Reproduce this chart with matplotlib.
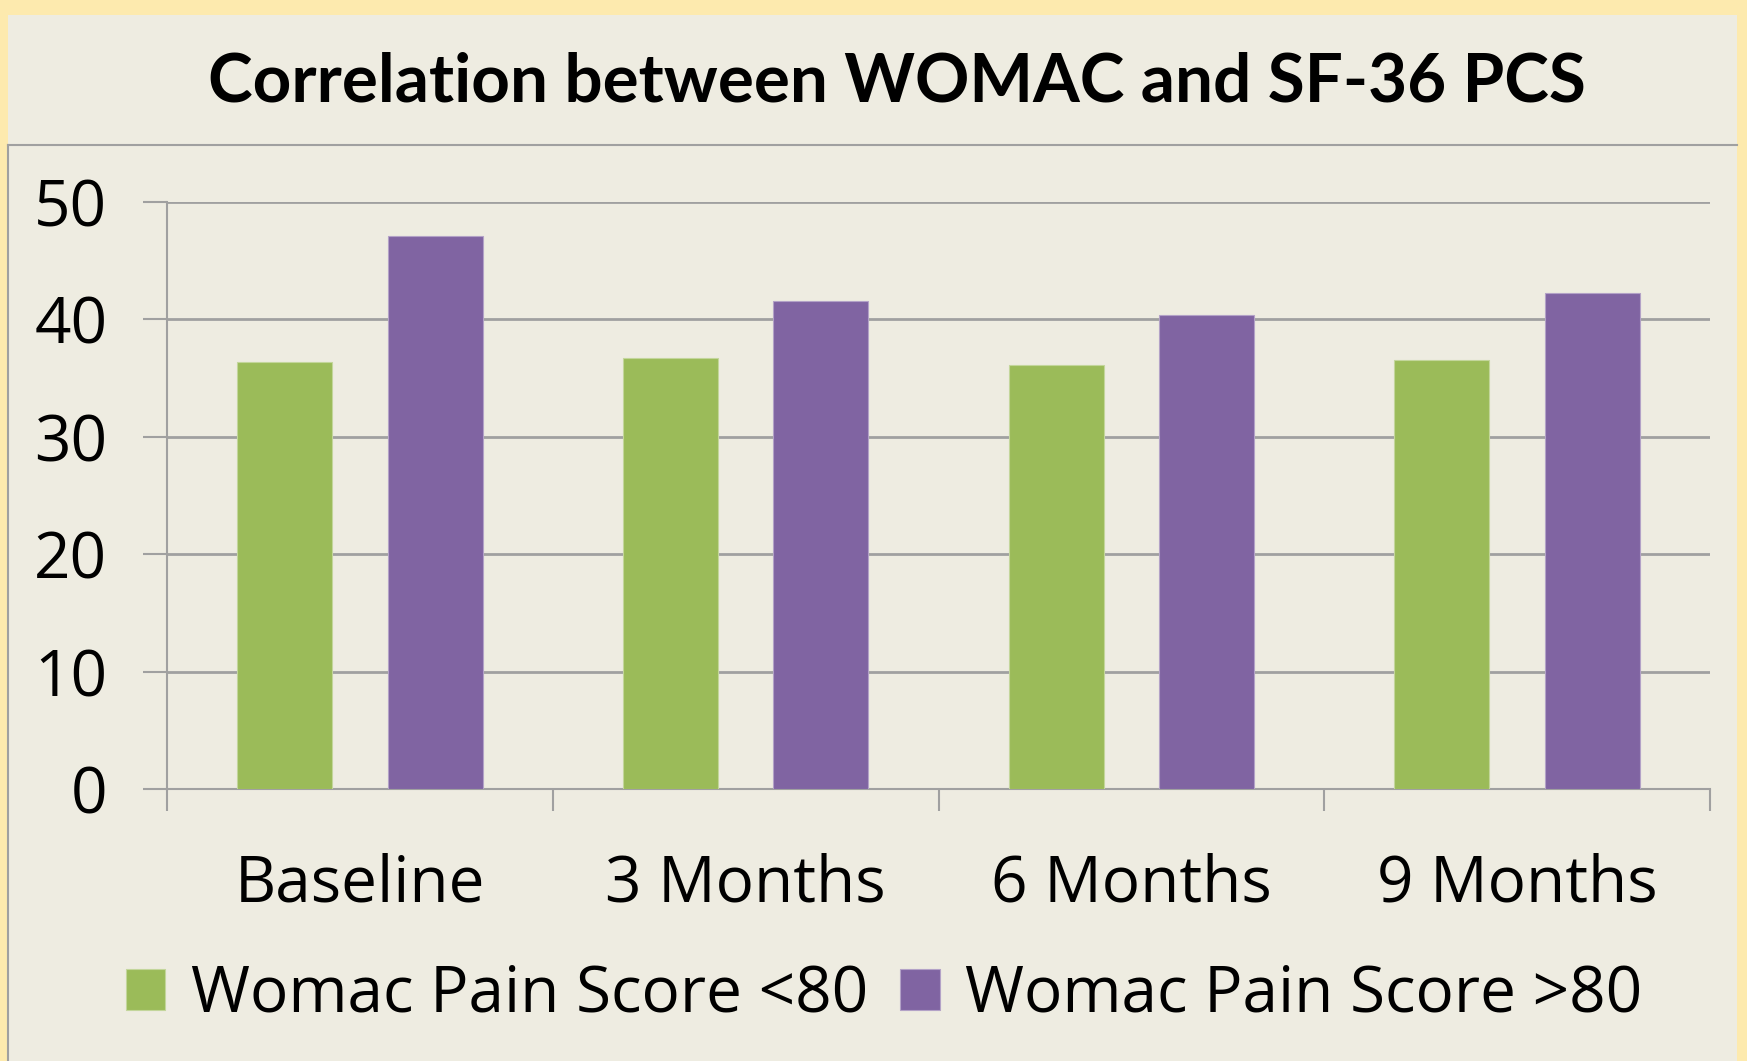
#! /usr/bin/env python3

'''
Grouped bar chart: WOMAC pain score groups vs SF-36 PCS over time
'''

import matplotlib
matplotlib.use('Agg')
import matplotlib.pyplot as plt
import matplotlib.patches as mpatches
import matplotlib.lines as mlines
import numpy as np


categories = ['Baseline', '3 Months', '6 Months', '9 Months']
series_names = ['Womac Pain Score <80', 'Womac Pain Score >80']
pain_below_80 = [36.4, 36.7, 36.1, 36.55]
pain_above_80 = [47.1, 41.6, 40.4, 42.25]
y_ticks = [0, 10, 20, 30, 40, 50]
title = 'Correlation between WOMAC and SF-36 PCS'

green = '#9BBB59'
purple = '#8064A2'
beige = '#EEECE1'
yellow = '#FDEAAE'
grid_grey = '#A0A0A0'
title_font = 'Lato'
font = 'Open Sans'

W, H = 1747, 1061


def main():
    fig = plt.figure(figsize=(W / 100, H / 100), dpi=100)
    fig.patch.set_facecolor(yellow)

    # beige panel inside the yellow frame
    fig.patches.append(mpatches.Rectangle(
        (8 / W, 0), (1737 - 8) / W, (H - 15) / H,
        transform=fig.transFigure, facecolor=beige, edgecolor='none',
        zorder=-10))
    # chart area border lines
    fig.lines.append(mlines.Line2D(
        [8 / W, 1737 / W], [1 - 145 / H, 1 - 145 / H],
        transform=fig.transFigure, color=grid_grey, linewidth=1.5,
        zorder=-5))
    fig.lines.append(mlines.Line2D(
        [8 / W, 8 / W], [0, 1 - 145 / H],
        transform=fig.transFigure, color=grid_grey, linewidth=1.5,
        zorder=-5))

    fig.text(897 / W, 1 - 82 / H, title, ha='center', va='center',
             fontsize=48.5, fontweight='bold', family=title_font, color='black')

    left, right = 167 / W, 1710 / W
    bottom, top = 1 - 789 / H, 1 - 202 / H
    ax = fig.add_axes([left, bottom, right - left, top - bottom])
    ax.set_facecolor('none')

    x = np.arange(len(categories))
    width = 0.246
    offset = 0.195
    ax.bar(x - offset, pain_below_80, width, color=green,
           edgecolor='#C3D69B', linewidth=0.8, label=series_names[0], zorder=3)
    ax.bar(x + offset, pain_above_80, width, color=purple,
           edgecolor='#B3A2C7', linewidth=0.8, label=series_names[1], zorder=3)

    ax.set_xlim(-0.5, len(categories) - 0.5)
    ax.set_ylim(0, 50)
    ax.set_yticks(y_ticks)
    ax.set_yticklabels([str(v) for v in y_ticks], family=font, fontsize=46)
    ax.yaxis.grid(True, color=grid_grey, linewidth=2, zorder=1)
    ax.set_axisbelow(True)

    ax.set_xticks(x)
    ax.set_xticklabels(categories, family=font, fontsize=46)
    ax.set_xticks(np.arange(len(categories) + 1) - 0.5, minor=True)
    ax.tick_params(axis='x', which='major', length=0, pad=46)
    ax.tick_params(axis='x', which='minor', length=16, width=1.5,
                   color=grid_grey, direction='out')
    ax.tick_params(axis='y', length=17, width=1.5, color=grid_grey, pad=26)

    for spine in 'right', 'top':
        ax.spines[spine].set_visible(False)
    for spine in 'left', 'bottom':
        ax.spines[spine].set_color(grid_grey)
        ax.spines[spine].set_linewidth(1.5)

    fig.legend(
        loc='center', bbox_to_anchor=(884 / W, 1 - 995 / H), ncol=2,
        frameon=False, prop={'family': font, 'size': 46},
        handlelength=0.62, handleheight=0.62, handletextpad=0.4,
        columnspacing=0.5)

    fig.savefig('out.png', dpi=100, facecolor=fig.get_facecolor())


if __name__ == '__main__':
    main()
